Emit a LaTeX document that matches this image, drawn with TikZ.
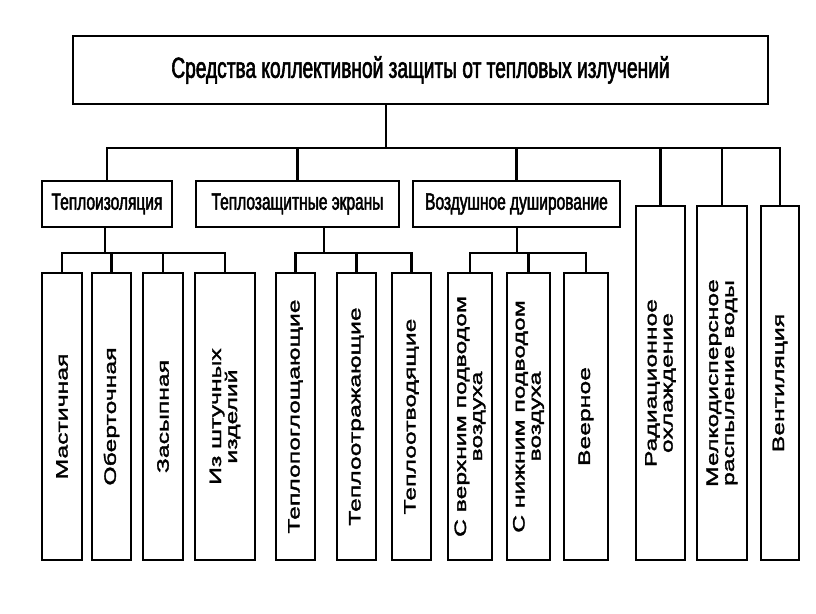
\documentclass[tikz,border=0pt]{standalone}
\usepackage{fontspec}
\setmainfont{Liberation Sans}
\newfontfamily\hfont[FakeStretch=0.66,FakeBold=2]{Liberation Sans}
\newfontfamily\vfont[FakeStretch=1.5,FakeBold=2]{Liberation Sans}
\usetikzlibrary{positioning}

\tikzset{
  box/.style={draw, line width=2.8pt, inner sep=0pt, minimum height=46pt,
              font=\hfont\fontsize{23.5}{26}\selectfont},
  head/.style={box, minimum width=695pt, minimum height=68pt,
               font=\hfont\fontsize{29}{32}\selectfont},
  leaf/.style={draw, line width=2.8pt, inner sep=0pt, minimum width=#1},
  vlab/.style={rotate=90, align=center, inner sep=0pt,
               font=\vfont\fontsize{16.5}{16}\selectfont},
  link/.style={line width=2.4pt},
}

\begin{document}
\begin{tikzpicture}[x=1pt, y=-1pt]
                \useasboundingbox[fill=white] (0,0) rectangle (816,613);

                % top
                \node[head] (top) at (420.5,70) {Средства коллективной защиты от тепловых излучений};
                \coordinate (bus) at (386,148);

                % second level
                \node[box, minimum width=130pt] (iso) at (107,204) {Теплоизоляция};
                \node[box, minimum width=203pt] (scr) at (297.5,204) {Теплозащитные экраны};
                \node[box, minimum width=207pt] (air) at (516.5,204) {Воздушное душирование};
                \node[leaf=49pt, minimum height=354pt, label={[vlab]center:Радиационное\\охлаждение}] (rad) at (660.5,383) {};
                \node[leaf=50pt, minimum height=354pt, label={[vlab]center:Мелкодисперсное\\распыление воды}] (mel) at (722,383) {};
                \node[leaf=38pt, minimum height=354pt, label={[vlab]center:Вентиляция}] (ven) at (780,383) {};

                % leaves
                \node[leaf=40pt, minimum height=287pt, label={[vlab]center:Мастичная}] (iso1) at (62,416.5) {};
                \node[leaf=39pt, minimum height=287pt, label={[vlab]center:Оберточная}] (iso2) at (111.5,416.5) {};
                \node[leaf=40pt, minimum height=287pt, label={[vlab]center:Засыпная}] (iso3) at (163,416.5) {};
                \node[leaf=60pt, minimum height=287pt, label={[vlab]center:Из штучных\\изделий}] (iso4) at (225,416.5) {};

                \node[leaf=39pt, minimum height=287pt, label={[vlab]center:Теплопоглощающие}] (scr1) at (295.5,416.5) {};
                \node[leaf=39pt, minimum height=287pt, label={[vlab]center:Теплоотражающие}] (scr2) at (356.5,416.5) {};
                \node[leaf=39pt, minimum height=287pt, label={[vlab]center:Теплоотводящие}] (scr3) at (411.5,416.5) {};

                \node[leaf=44pt, minimum height=287pt, label={[vlab]center:С верхним подводом\\воздуха}] (air1) at (470,416.5) {};
                \node[leaf=43pt, minimum height=287pt, label={[vlab]center:С нижним подводом\\воздуха}] (air2) at (528.5,416.5) {};
                \node[leaf=44pt, minimum height=287pt, label={[vlab]center:Веерное}] (air3) at (586,416.5) {};

                % connectors
                \draw[link] (bus |- top.south) -- (bus);
                \draw[link] (iso.north) -- (iso.north |- bus) -- (ven.north |- bus) -- (ven.north);
                \foreach \n in {scr, air, rad, mel}
                    \draw[link] (\n.north) -- (\n.north |- bus);

                \coordinate (isoj) at (105,253);
                \coordinate (scrj) at (324,253);
                \coordinate (airj) at (517,253);

                \draw[link] (isoj |- iso.south) -- (isoj);
                \draw[link] (iso1.north) -- (iso1.north |- isoj) -- (iso4.north |- isoj) -- (iso4.north);
                \draw[link] (iso2.north) -- (iso2.north |- isoj);
                \draw[link] (iso3.north) -- (iso3.north |- isoj);

                \draw[link] (scrj |- scr.south) -- (scrj);
                \draw[link] (scr1.north) -- (scr1.north |- scrj) -- (scr3.north |- scrj) -- (scr3.north);
                \draw[link] (scr2.north) -- (scr2.north |- scrj);

                \draw[link] (airj |- air.south) -- (airj);
                \draw[link] (air1.north) -- (air1.north |- airj) -- (air3.north |- airj) -- (air3.north);
                \draw[link] (air2.north) -- (air2.north |- airj);
            \end{tikzpicture}
\end{document}
